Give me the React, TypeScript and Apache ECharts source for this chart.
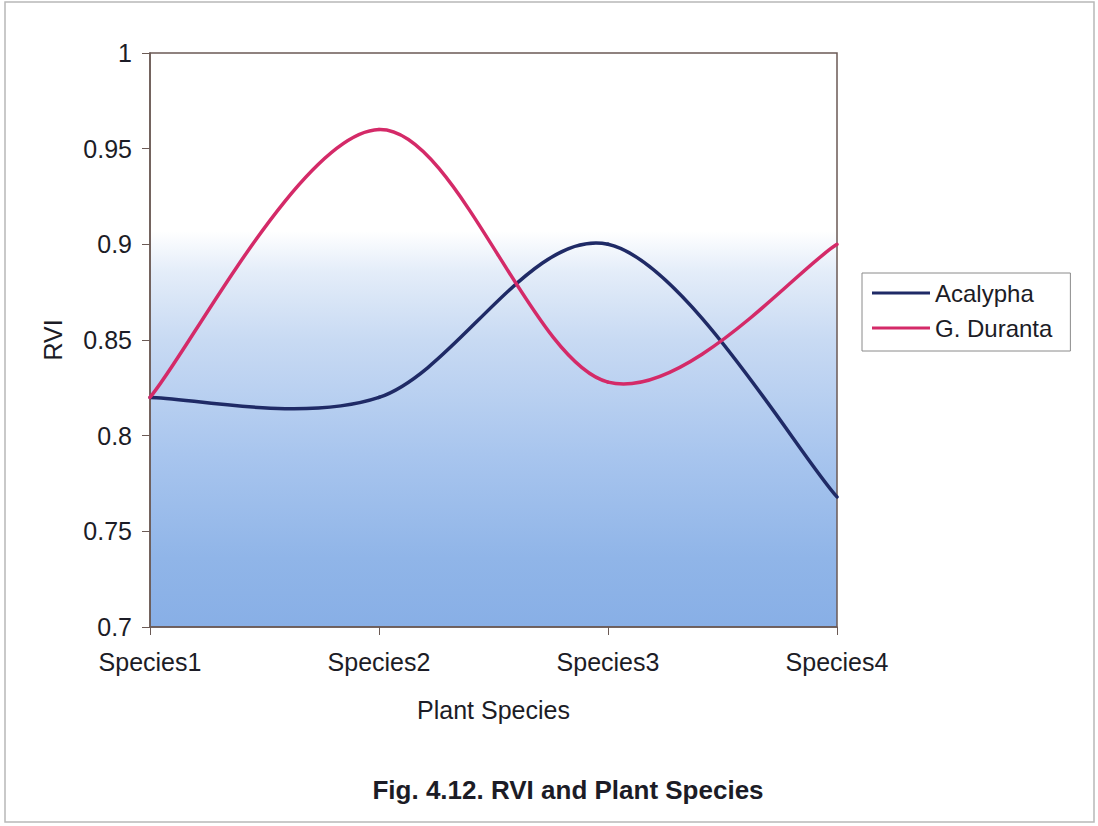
import React, { useEffect, useRef } from "react";
import * as echarts from "echarts";

const categories = ["Species1", "Species2", "Species3", "Species4"];
const acalypha = [0.82, 0.82, 0.9, 0.768];
const duranta = [0.82, 0.96, 0.828, 0.9];
const seriesNames = ["Acalypha", "G. Duranta"];
const seriesColors = ["#1f2a66", "#d42a68"];

const FONT = "'Liberation Sans', Arial, sans-serif";
const TEXT = "#1c1c26";

// Smoothed line drawn segment by segment as Catmull-Rom splines (tension 1/6),
// with every point placed through the grid's own coordinate system.
function smoothSeries(name: string, values: number[], color: string) {
  return {
    name,
    type: "custom",
    coordinateSystem: "cartesian2d",
    data: values.map((v, i) => [i, v]),
    encode: { x: 0, y: 1 },
    itemStyle: { color },
    renderItem: (params: any, api: any) => {
      const i = params.dataIndex;
      const n = values.length;
      if (i >= n - 1) return null;
      const pt = (k: number) => {
        const kk = Math.max(0, Math.min(n - 1, k));
        return api.coord([kk, values[kk]]);
      };
      const p0 = pt(i - 1);
      const p1 = pt(i);
      const p2 = pt(i + 1);
      const p3 = pt(i + 2);
      const c1 = [p1[0] + (p2[0] - p0[0]) / 6, p1[1] + (p2[1] - p0[1]) / 6];
      const c2 = [p2[0] - (p3[0] - p1[0]) / 6, p2[1] - (p3[1] - p1[1]) / 6];
      return {
        type: "bezierCurve",
        shape: {
          x1: p1[0],
          y1: p1[1],
          cpx1: c1[0],
          cpy1: c1[1],
          cpx2: c2[0],
          cpy2: c2[1],
          x2: p2[0],
          y2: p2[1],
        },
        style: { stroke: color, fill: "none", lineWidth: 3.5, lineCap: "round" },
      };
    },
  };
}

export default function App() {
  const ref = useRef<HTMLDivElement>(null);

  useEffect(() => {
    if (!ref.current) return;
    const chart = echarts.init(ref.current, undefined, { renderer: "svg" });
    chart.setOption({
      animation: false,
      backgroundColor: "#ffffff",
      textStyle: { fontFamily: FONT },
      title: {
        text: "Fig. 4.12. RVI and Plant Species",
        left: 563,
        top: 772,
        textAlign: "center",
        textStyle: { fontFamily: FONT, fontSize: 26, fontWeight: "bold", color: TEXT },
      },
      graphic: [
        {
          type: "rect",
          shape: { x: 5, y: 2, width: 1089, height: 820 },
          style: { fill: "none", stroke: "#b8b8b8", lineWidth: 1.5 },
          silent: true,
        },
      ],
      legend: {
        orient: "vertical",
        left: 862,
        top: 273,
        padding: [8, 18, 11, 10],
        itemGap: 11,
        itemWidth: 58,
        itemHeight: 14,
        borderColor: "#8a8a8a",
        borderWidth: 1,
        backgroundColor: "#ffffff",
        icon: "path://M0,0 L58,0 L58,3 L0,3 Z",
        textStyle: { fontFamily: FONT, fontSize: 24, color: TEXT },
        data: seriesNames,
      },
      grid: {
        left: 150,
        top: 53,
        width: 687,
        height: 574,
        show: true,
        borderColor: "#6b5a55",
        borderWidth: 1.5,
        backgroundColor: new echarts.graphic.LinearGradient(0, 0, 0, 1, [
          { offset: 0, color: "#ffffff" },
          { offset: 0.31, color: "#ffffff" },
          { offset: 0.38, color: "#e4edf9" },
          { offset: 0.5, color: "#c8daf3" },
          { offset: 0.7, color: "#a8c5ee" },
          { offset: 0.88, color: "#90b5e8" },
          { offset: 1, color: "#88afe6" },
        ]),
      },
      xAxis: {
        type: "category",
        data: categories,
        boundaryGap: false,
        name: "Plant Species",
        nameLocation: "middle",
        nameGap: 70,
        nameTextStyle: { fontFamily: FONT, fontSize: 25, color: TEXT },
        axisLine: { lineStyle: { color: "#6b5a55", width: 1.5 } },
        axisTick: { show: true, length: 8, lineStyle: { color: "#6b5a55" } },
        axisLabel: { fontFamily: FONT, fontSize: 25, color: TEXT, margin: 22 },
        splitLine: { show: false },
      },
      yAxis: {
        type: "value",
        min: 0.7,
        max: 1,
        interval: 0.05,
        name: "RVI",
        nameLocation: "middle",
        nameGap: 85,
        nameTextStyle: { fontFamily: FONT, fontSize: 25, color: TEXT },
        axisLine: { show: true, lineStyle: { color: "#6b5a55", width: 1.5 } },
        axisTick: { show: true, length: 8, lineStyle: { color: "#6b5a55" } },
        axisLabel: {
          fontFamily: FONT,
          fontSize: 25,
          color: TEXT,
          margin: 18,
          formatter: (v: number) => String(Number(v.toFixed(2))),
        },
        splitLine: { show: false },
      },
      series: [
        smoothSeries(seriesNames[0], acalypha, seriesColors[0]),
        smoothSeries(seriesNames[1], duranta, seriesColors[1]),
      ],
    });
    return () => chart.dispose();
  }, []);

  return (
    <div
      ref={ref}
      style={{ position: "fixed", left: 0, top: 0, width: 1098, height: 826 }}
    />
  );
}
